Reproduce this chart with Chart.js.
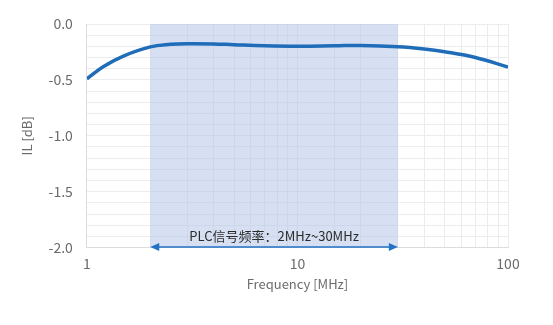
<!DOCTYPE html>
<html>
<head>
<meta charset="utf-8">
<script src="https://cdn.jsdelivr.net/npm/chart.js@4"></script>
<style>
  html, body { margin: 0; padding: 0; background: #fff; }
  canvas { display: block; }
</style>
</head>
<body>
<canvas id="myChart" width="553" height="325"></canvas>
<script>
// Datos
const frecuencias = [1, 1.2, 1.5, 2, 2.5, 3, 4, 5, 7, 10, 15, 20, 30, 40, 50, 70, 100];
const perdidaIL = [-0.49, -0.38, -0.285, -0.205, -0.182, -0.176, -0.178, -0.185, -0.194, -0.198, -0.195, -0.192, -0.203, -0.223, -0.248, -0.3, -0.385];
const bandaPLC = [2, 30];
const textoBanda = "PLC信号频率：2MHz~30MHz";

const ctx = document.getElementById("myChart").getContext("2d");
const fuente = "'Noto Sans CJK SC', 'Noto Sans', sans-serif";
const gris = "#6b6b6b";

// Sombreado de la banda + flecha con texto
const pluginBanda = {
  id: "bandaPLC",
  beforeDatasetsDraw(chart) {
    const { ctx, chartArea, scales } = chart;
    const x0 = scales.x.getPixelForValue(bandaPLC[0]);
    const x1 = scales.x.getPixelForValue(bandaPLC[1]);
    ctx.save();
    ctx.fillStyle = "rgba(180, 199, 231, 0.55)";
    ctx.fillRect(x0, chartArea.top, x1 - x0, chartArea.bottom - chartArea.top);
    ctx.restore();
  },
  afterDatasetsDraw(chart) {
    const { ctx, chartArea, scales } = chart;
    const x0 = scales.x.getPixelForValue(bandaPLC[0]);
    const x1 = scales.x.getPixelForValue(bandaPLC[1]);
    const y = chartArea.bottom - 0.5;
    ctx.save();
    ctx.strokeStyle = "#2472c4";
    ctx.fillStyle = "#2472c4";
    ctx.lineWidth = 1.5;
    ctx.beginPath();
    ctx.moveTo(x0 + 6, y);
    ctx.lineTo(x1 - 6, y);
    ctx.stroke();
    ctx.beginPath();
    ctx.moveTo(x0, y);
    ctx.lineTo(x0 + 9, y - 4);
    ctx.lineTo(x0 + 9, y + 4);
    ctx.closePath();
    ctx.fill();
    ctx.beginPath();
    ctx.moveTo(x1, y);
    ctx.lineTo(x1 - 9, y - 4);
    ctx.lineTo(x1 - 9, y + 4);
    ctx.closePath();
    ctx.fill();
    ctx.fillStyle = "#2b2b2b";
    ctx.font = "13px " + fuente;
    ctx.textAlign = "center";
    ctx.textBaseline = "alphabetic";
    ctx.fillText(textoBanda, (x0 + x1) / 2, y - 6);
    ctx.restore();
  },
};

const myChart = new Chart(ctx, {
  type: "line",
  data: {
    datasets: [
      {
        label: "IL",
        data: frecuencias.map((f, i) => ({ x: f, y: perdidaIL[i] })),
        borderColor: "#1f6cb8",
        borderWidth: 3.5,
        pointRadius: 0,
        tension: 0.4,
        fill: false,
      },
    ],
  },
  options: {
    responsive: false,
    animation: false,
    layout: { padding: { top: 24, right: 45, left: 15, bottom: 33 } },
    plugins: { legend: { display: false }, tooltip: { enabled: false } },
    scales: {
      x: {
        type: "logarithmic",
        min: 1,
        max: 100,
        grid: { color: "#ececec", drawTicks: false },
        border: { color: "#dcdcdc" },
        ticks: {
          autoSkip: false,
          padding: 8,
          color: gris,
          font: { size: 14, family: fuente },
          maxRotation: 0,
          callback: (v) => ([1, 10, 100].includes(v) ? String(v) : ""),
        },
        title: {
          display: true,
          text: "Frequency [MHz]",
          color: gris,
          font: { size: 13, family: fuente },
          padding: { top: -4, bottom: 0 },
        },
      },
      y: {
        min: -2,
        max: 0,
        grid: { color: "#ececec", drawTicks: false },
        border: { color: "#dcdcdc" },
        ticks: {
          stepSize: 0.1,
          autoSkip: false,
          padding: 14,
          color: gris,
          font: { size: 14, family: fuente },
          callback: (v) => {
            const r = Math.round(v * 10);
            return r % 5 === 0 ? (r / 10).toFixed(1) : "";
          },
        },
        title: {
          display: true,
          text: "IL [dB]",
          color: gris,
          font: { size: 13, family: fuente },
          padding: { top: 4, bottom: 0 },
        },
      },
    },
  },
  plugins: [pluginBanda],
});
</script>
</body>
</html>
